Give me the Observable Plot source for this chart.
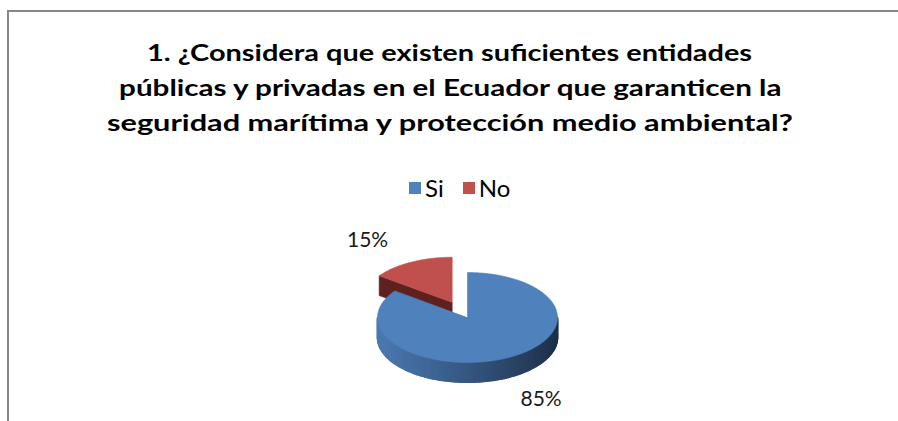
<!DOCTYPE html>
<html>
<head>
<meta charset="utf-8">
<script src="https://cdn.jsdelivr.net/npm/d3@7"></script>
<script src="https://cdn.jsdelivr.net/npm/@observablehq/plot@0.6"></script>
<style>
  html, body { margin: 0; padding: 0; background: #fff; }
  #wrap { position: relative; width: 898px; height: 421px; overflow: hidden; font-family: Lato, "Open Sans", sans-serif; }
  #frame { position: absolute; left: 7px; top: 10px; width: 900px; height: 420px; border-left: 2px solid #878787; border-top: 2px solid #878787; }
  #title { position: absolute; left: 0; top: 35px; width: 900px; text-align: center; font-weight: bold; font-size: 23px; line-height: 35px; color: #000; }
  #title .line { height: 35px; white-space: nowrap; }
  #title .tl { display: inline-block; transform-origin: 50% 50%; }
  #legend { position: absolute; left: 409px; top: 175px; font-size: 24px; line-height: 26px; color: #000; display: flex; align-items: center; }
  #legend .sw { display: inline-block; width: 12px; height: 12px; margin-right: 4px; }
  #legend .item { display: flex; align-items: center; }
  #chart { position: absolute; left: 0; top: 200px; }
</style>
</head>
<body>
<div id="wrap">
  <div id="frame"></div>
  <div id="title"></div>
  <div id="legend"></div>
  <div id="chart"></div>
</div>
<script>
const titleLines = [
  "1. ¿Considera que existen suficientes entidades",
  "públicas y privadas en el Ecuador que garanticen la",
  "seguridad marítima y protección medio ambiental?"
];
const titleLineWidths = [605, 663, 686];
const categories = ["Si", "No"];
const values = [85, 15];
const valueLabels = ["85%", "15%"];
const topColors = ["#4f81bd", "#c0504d"];
const exploded = [0, 0.38];

// title (each line stretched horizontally like the reference)
const titleEl = document.getElementById("title");
titleEl.innerHTML = titleLines.map(l => `<div class="line"><span class="tl">${l}</span></div>`).join("");
function fitTitle() {
  titleEl.querySelectorAll(".tl").forEach((s, i) => {
    const w = s.offsetWidth;
    if (w > 0) s.style.transform = `scaleX(${titleLineWidths[i] / w})`;
  });
}
fitTitle();
if (document.fonts && document.fonts.ready) document.fonts.ready.then(fitTitle);

// legend
const legend = document.getElementById("legend");
categories.forEach((c, i) => {
  const it = document.createElement("span");
  it.className = "item";
  it.style.marginRight = i === 0 ? "19px" : "0";
  it.innerHTML = `<span class="sw" style="background:${topColors[i]}"></span><span>${c}</span>`;
  legend.appendChild(it);
});

// pie geometry in unit ellipse coordinates
const depth = 0.44;
const step = Math.PI / 120;
const arcs = d3.pie().sort(null).value(d => d)(values);

const tops = [], radialFaces = [], sideStrips = [], textData = [];
const sideColor = d3.interpolateRgb("#1c2e47", "#4b79b1");
const radialColors = ["#2c4a72", "#5e2120"];

arcs.forEach((a, i) => {
  const mid = (a.startAngle + a.endAngle) / 2;
  const ox = Math.sin(mid) * exploded[i];
  const oy = Math.cos(mid) * exploded[i];
  const id = "top" + i;
  const pts = [{id, x: ox, y: oy, c: topColors[i]}];
  for (let t = a.startAngle; t < a.endAngle; t += step) pts.push({id, x: ox + Math.sin(t), y: oy + Math.cos(t), c: topColors[i]});
  pts.push({id, x: ox + Math.sin(a.endAngle), y: oy + Math.cos(a.endAngle), c: topColors[i]});
  tops.push(pts);

  // radial face at start angle if it faces the viewer
  const nA = a.startAngle - Math.PI / 2;
  if (Math.cos(nA) < 0 && exploded[i] > 0) {
    const rx = ox + Math.sin(a.startAngle), ry = oy + Math.cos(a.startAngle);
    radialFaces.push([
      {id: "r" + i, x: ox, y: oy, c: radialColors[i]},
      {id: "r" + i, x: rx, y: ry, c: radialColors[i]},
      {id: "r" + i, x: rx, y: ry - depth, c: radialColors[i]},
      {id: "r" + i, x: ox, y: oy - depth, c: radialColors[i]}
    ]);
  }

  // outer side wall (front half only)
  const s0 = Math.max(a.startAngle, Math.PI / 2), s1 = Math.min(a.endAngle, 3 * Math.PI / 2);
  let k = 0;
  for (let t = s0; t < s1; t += step) {
    const t2 = Math.min(t + step, s1);
    const tm = (t + t2) / 2;
    const c = i === 0 ? sideColor(Math.pow((1 - Math.sin(tm)) / 2, 0.9)) : "#5e2120";
    const sid = `s${i}_${k++}`;
    sideStrips.push(
      {id: sid, x: ox + Math.sin(t), y: oy + Math.cos(t), c},
      {id: sid, x: ox + Math.sin(t2), y: oy + Math.cos(t2), c},
      {id: sid, x: ox + Math.sin(t2), y: oy + Math.cos(t2) - depth, c},
      {id: sid, x: ox + Math.sin(t), y: oy + Math.cos(t) - depth, c}
    );
  }

  const lc = Math.cos(mid);
  textData.push({
    x: ox * 1.7 + Math.sin(mid) * 1.8,
    y: oy + lc * 1.55 - (lc < 0 ? depth : 0),
    text: valueLabels[i]
  });
});

const polyMark = (data, sw = 0.6) => Plot.line(data, {x: "x", y: "y", z: "id", fill: "c", stroke: "c", strokeWidth: sw, curve: "linear-closed"});

const chart = Plot.plot({
  width: 898,
  height: 221,
  margin: 0,
  x: {domain: [-1, 1], range: [377, 557], axis: null},
  y: {domain: [-1, 1], range: [162, 72], axis: null},
  color: {type: "identity"},
  style: {background: "transparent", overflow: "visible"},
  marks: [
    ...radialFaces.map(d => polyMark(d)),
    polyMark(tops[1]),
    polyMark(sideStrips, 1.6),
    polyMark(tops[0]),
    Plot.text(textData, {x: "x", y: "y", text: "text", fontSize: 21, fill: "#1a1a1a", fontFamily: "Lato, 'Open Sans', sans-serif"})
  ]
});
document.getElementById("chart").appendChild(chart);
</script>
</body>
</html>
